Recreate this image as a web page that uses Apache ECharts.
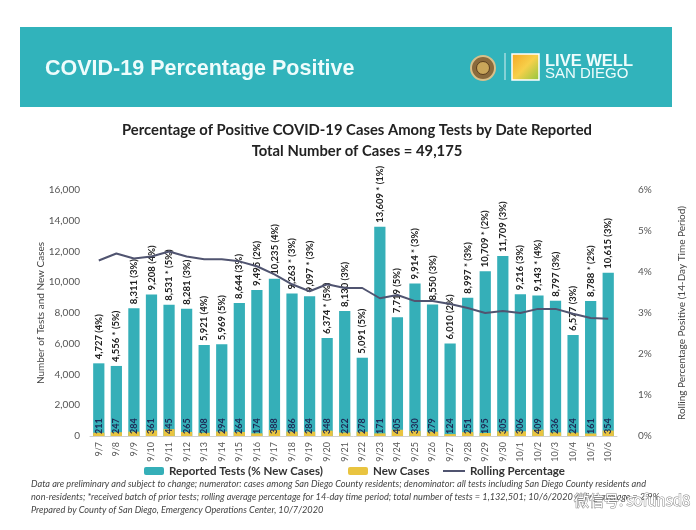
<!DOCTYPE html>
<html>
<head>
<meta charset="utf-8">
<script src="https://cdn.jsdelivr.net/npm/echarts@6/dist/echarts.min.js"></script>
<style>
html,body{margin:0;padding:0;background:#fff;}
#chart{width:696px;height:530px;}
</style>
</head>
<body>
<div id="chart"></div>
<script>
const dates = ['9/7','9/8','9/9','9/10','9/11','9/12','9/13','9/14','9/15','9/16','9/17','9/18','9/19','9/20','9/21','9/22','9/23','9/24','9/25','9/26','9/27','9/28','9/29','9/30','10/1','10/2','10/3','10/4','10/5','10/6'];
const reportedTests = [4727,4556,8311,9208,8531,8281,5921,5969,8644,9495,10235,9263,9097,6374,8130,5091,13609,7719,9914,8550,6010,8997,10709,11709,9216,9143,8797,6577,8788,10615];
const priorBatch = [0,1,0,0,1,0,0,0,0,0,0,1,1,1,0,0,1,0,1,0,0,1,1,0,0,1,0,0,1,0];
const pctNewCases = [4,5,3,4,5,3,4,5,3,2,4,3,3,5,3,5,1,5,3,3,2,3,2,3,3,4,3,3,2,3];
const newCases = [211,247,284,361,445,265,208,294,264,174,388,286,284,348,222,278,171,405,330,279,124,251,195,305,306,409,236,224,161,354];
const rollingPct = [4.28,4.45,4.33,4.38,4.50,4.38,4.31,4.31,4.26,4.14,3.94,3.70,3.53,3.70,3.61,3.61,3.36,3.44,3.29,3.29,3.22,3.12,3.00,3.05,3.00,3.10,3.10,2.98,2.88,2.86];
const leftTicks = {min:0,max:16000,interval:2000};
const rightTicks = {min:0,max:6,interval:1};

const teal = '#35AFB8';
const yellow = '#E9C440';
const lineColor = '#505470';
const FONT = 'Lato, "Open Sans", sans-serif';

const chart = echarts.init(document.getElementById('chart'), null, {renderer:'canvas'});
const fmt = n => n.toLocaleString('en-US');
const legendText = {fontFamily:FONT,fontWeight:'bold',fontSize:11.5,color:'#333'};

chart.setOption({
  animation:false,
  backgroundColor:'#fff',
  grid:{left:90,right:79,top:190,bottom:94},
  legend:[
    {data:['Reported Tests (% New Cases)'],left:139,top:460,itemWidth:20,itemHeight:8,textStyle:legendText},
    {data:['New Cases'],left:343,top:460,itemWidth:20,itemHeight:8,textStyle:legendText},
    {data:[{name:'Rolling Percentage',icon:'rect'}],left:438,top:460,itemWidth:22,itemHeight:2,textStyle:legendText}
  ],
  xAxis:{type:'category',data:dates,
    axisLine:{lineStyle:{color:'#d0d0d0'}},axisTick:{show:false},
    axisLabel:{rotate:90,interval:0,fontSize:9,color:'#555',fontFamily:FONT,margin:6}},
  yAxis:[
    {type:'value',min:leftTicks.min,max:leftTicks.max,interval:leftTicks.interval,
     splitLine:{show:false},axisLine:{show:false},axisTick:{show:false},
     axisLabel:{formatter:v=>fmt(v),fontSize:10,color:'#555',fontFamily:FONT,margin:10},
     name:'Number of Tests and New Cases',nameLocation:'middle',nameGap:44,nameRotate:90,nameMoveOverlap:false,
     nameTextStyle:{fontSize:10,color:'#444',fontFamily:FONT}},
    {type:'value',min:rightTicks.min,max:rightTicks.max,interval:rightTicks.interval,
     splitLine:{show:false},axisLine:{show:false},axisTick:{show:false},
     axisLabel:{formatter:'{value}%',fontSize:10,color:'#555',fontFamily:FONT,margin:21},
     name:'Rolling Percentage Positive (14-Day Time Period)',nameLocation:'middle',nameGap:60,nameRotate:90,nameMoveOverlap:false,
     nameTextStyle:{fontSize:10,color:'#444',fontFamily:FONT}}
  ],
  series:[
    {name:'Reported Tests (% New Cases)',type:'bar',data:reportedTests,barWidth:'64%',
     itemStyle:{color:teal},z:2,
     label:{show:true,position:'top',rotate:90,align:'left',verticalAlign:'middle',distance:4,
       fontFamily:FONT,fontWeight:'bold',fontSize:9.5,color:'#222',
       formatter:p=>fmt(reportedTests[p.dataIndex])+(priorBatch[p.dataIndex]?' *':'')+' ('+pctNewCases[p.dataIndex]+'%)'}},
    {name:'New Cases',type:'bar',data:newCases,barWidth:'64%',barGap:'-100%',
     itemStyle:{color:yellow},z:3,
     label:{show:true,position:'insideBottom',rotate:90,align:'left',verticalAlign:'middle',distance:2,
       fontFamily:FONT,fontWeight:'bold',fontSize:9,color:'#1d2b57'}},
    {name:'Rolling Percentage',type:'line',yAxisIndex:1,data:rollingPct,showSymbol:false,symbol:'none',
     lineStyle:{color:lineColor,width:2},itemStyle:{color:lineColor},z:4}
  ],
  graphic:[
    {type:'rect',shape:{x:20,y:27,width:652,height:80},style:{fill:'#31B3BB'},z:-1},
    {type:'text',style:{x:45,y:69,text:'COVID-19 Percentage Positive',fill:'#eefcfc',font:'bold 21.5px "Liberation Sans", Arial, sans-serif',textVerticalAlign:'middle'}},
    {type:'circle',shape:{cx:483,cy:68,r:12},style:{fill:'#8a6a3c',stroke:'#d8c08a',lineWidth:2}},
    {type:'circle',shape:{cx:483,cy:68,r:6.5},style:{fill:'#c9a65a',stroke:'#5a3e1e',lineWidth:1}},
    {type:'line',shape:{x1:505,y1:53,x2:505,y2:80},style:{stroke:'#d9f0f1',lineWidth:1}},
    {type:'rect',shape:{x:512,y:54,width:27,height:26},style:{fill:new echarts.graphic.LinearGradient(0,0,1,1,[{offset:0,color:'#f5a623'},{offset:0.5,color:'#f7d04a'},{offset:1,color:'#8cc63f'}]),stroke:'#fff',lineWidth:1.5}},
    {type:'text',style:{x:545,y:61,text:'LIVE WELL',fill:'#eefcfc',font:'bold 16.5px "Liberation Sans", Arial, sans-serif',textVerticalAlign:'middle'}},
    {type:'text',style:{x:545,y:74,text:'SAN DIEGO',fill:'#eefcfc',font:'15px "Liberation Sans", Arial, sans-serif',textVerticalAlign:'middle'}},
    {type:'text',style:{x:357,y:130,text:'Percentage of Positive COVID-19 Cases Among Tests by Date Reported',fill:'#222',font:'bold 14.8px Lato, sans-serif',textAlign:'center',textVerticalAlign:'middle'}},
    {type:'text',style:{x:357,y:151,text:'Total Number of Cases = 49,175',fill:'#222',font:'bold 14.8px Lato, sans-serif',textAlign:'center',textVerticalAlign:'middle'}},
    {type:'text',style:{x:31,y:484,text:'Data are preliminary and subject to change; numerator: cases among San Diego County residents; denominator: all tests including San Diego County residents and',fill:'#444',font:'italic 9.2px Lato, sans-serif',textVerticalAlign:'middle'}},
    {type:'text',style:{x:31,y:497,text:'non-residents; *received batch of prior tests; rolling average percentage for 14-day time period; total number of tests = 1,132,501; 10/6/2020 rolling average = 2.9%',fill:'#444',font:'italic 9.2px Lato, sans-serif',textVerticalAlign:'middle'}},
    {type:'text',style:{x:31,y:510,text:'Prepared by County of San Diego, Emergency Operations Center, 10/7/2020',fill:'#444',font:'italic 9.2px Lato, sans-serif',textVerticalAlign:'middle'}},
    {type:'text',style:{x:574,y:500,text:'微信号: sofunsd8',fill:'#fff',stroke:'#888',lineWidth:1,font:'15px "Noto Sans CJK SC", sans-serif',textVerticalAlign:'middle'}}
  ]
});
</script>
</body>
</html>
